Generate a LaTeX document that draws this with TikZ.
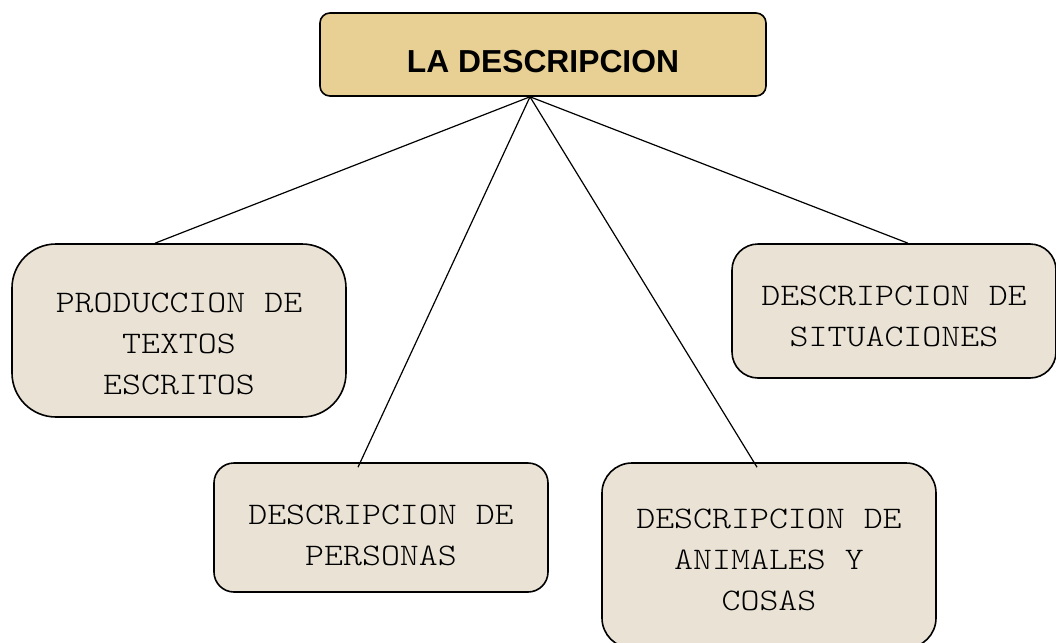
\documentclass[tikz,border=0pt]{standalone}
\usepackage{fontspec}
\newfontfamily\boxfont[FakeStretch=1.15]{Latin Modern Mono Light}
\newfontfamily\titlefont{Liberation Sans}
\usetikzlibrary{backgrounds}
\definecolor{papyrus}{RGB}{232,208,148}
\definecolor{stone}{RGB}{233,226,213}

\begin{document}
\begin{tikzpicture}[x=0.5pt,y=-0.5pt]
\tikzstyle{title} = [rectangle, draw=black, thick, fill=papyrus,
minimum width=223pt, minimum height=41.5pt, rounded corners=5pt]
\tikzstyle{topic} = [rectangle, draw=black, thick, fill=stone,
minimum width=167pt, inner sep=0pt]
\tikzstyle{caption} = [align=center, inner sep=0pt,
font=\boxfont\fontsize{15.7}{20.5}\selectfont]
\tikzstyle{line} = [draw, line width=0.6pt];
\useasboundingbox (0,0) rectangle (1056,643);
% main title
\node [title, label={[name=desc_txt, yshift=-3.5pt,
 font=\titlefont\bfseries\fontsize{15.9}{19}\selectfont]center:LA DESCRIPCION}]
 (desc) at (543,54.5) {};
% row 1
\node [topic, minimum height=86.5pt, rounded corners=22pt,
 label={[caption, name=texts_txt, yshift=-6.5pt]center:PRODUCCION DE\\TEXTOS\\ESCRITOS}]
 (texts) at (179,330.5) {};
\node [topic, minimum width=162pt, minimum height=67pt, rounded corners=13pt,
 label={[caption, name=situ_txt, yshift=-2.5pt]center:DESCRIPCION DE\\SITUACIONES}]
 (situ) at (894,311) {};
% row 2
\node [topic, minimum height=64.5pt, rounded corners=10pt,
 label={[caption, name=people_txt, yshift=-4pt]center:DESCRIPCION DE\\PERSONAS}]
 (people) at (381,527.5) {};
\node [topic, minimum height=92.5pt, rounded corners=15pt,
 label={[caption, name=things_txt, yshift=-2pt]center:DESCRIPCION DE\\ANIMALES Y\\COSAS}]
 (things) at (769,555.5) {};
\tikzstyle{every path}=[line]
\path ([xshift=-6.5pt]desc.south) -- ([xshift=-12pt]texts.north);
\path ([xshift=-6.5pt]desc.south) -- ([xshift=-11.5pt,yshift=-2.5pt]people.north);
\path ([xshift=-6.5pt]desc.south) -- ([xshift=-6pt,yshift=-2.5pt]things.north);
\path ([xshift=-6.5pt]desc.south) -- ([xshift=7pt]situ.north);
\end{tikzpicture}
\end{document}
